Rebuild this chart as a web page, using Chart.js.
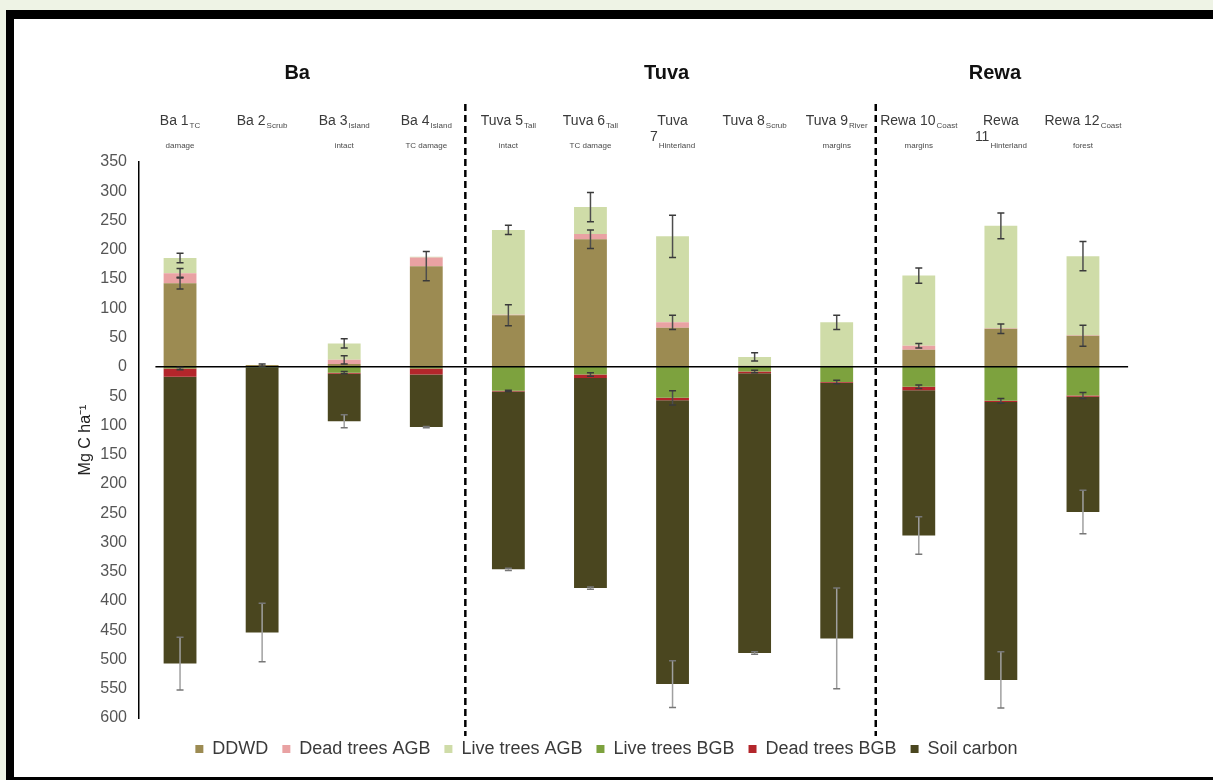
<!DOCTYPE html>
<html>
<head>
<meta charset="utf-8">
<script src="https://cdn.jsdelivr.net/npm/chart.js@4.4.1/dist/chart.umd.min.js"></script>
<style>
  html, body { margin: 0; padding: 0; }
  body { width: 1213px; height: 780px; background: #eef3e5; position: relative; overflow: hidden; }
  #frame { position: absolute; left: 6px; top: 10px; width: 1207px; height: 770px; box-sizing: border-box;
           background: #fff; border-top: 9px solid #000; border-left: 8px solid #000; border-bottom: 3px solid #000; }
  #wrap { position: absolute; left: 0; top: 0; width: 1213px; height: 780px; }
</style>
</head>
<body>
<div id="frame"></div>
<div id="wrap"><canvas id="chart"></canvas></div>
<script>
// sites (x categories) and their two-line labels
const sites      = ["Ba 1", "Ba 2", "Ba 3", "Ba 4", "Tuva 5", "Tuva 6", "Tuva", "Tuva 8", "Tuva 9", "Rewa 10", "Rewa", "Rewa 12"];
const siteSub    = ["TC", "Scrub", "Island", "Island", "Tall", "Tall", "", "Scrub", "River", "Coast", "", "Coast"];
const siteLine2  = ["", "", "", "", "", "", "7", "", "", "", "11", ""];
const line2Sub   = ["damage", "", "intact", "TC damage", "intact", "TC damage", "Hinterland", "", "margins", "margins", "Hinterland", "forest"];

const groupNames = ["Ba", "Tuva", "Rewa"];
const groupFirst = [0, 4, 9];
const groupLast  = [3, 8, 11];

// carbon stocks, Mg C ha-1 (below-ground stocks negative)
const ddwd    = [143, 3, 5, 172, 88, 218, 67, 2, 0, 29, 65, 53];
const deadAgb = [17, 0, 7, 15, 1, 9, 9, 0, 0, 7, 1, 1];
const liveAgb = [26, 0, 28, 1, 145, 46, 147, 15, 76, 120, 175, 135];
const liveBgb = [-3, -1, -10, -3, -41, -13, -53, -8, -26, -34, -58, -49];
const deadBgb = [-14, 0, -2, -10, -1, -6, -4, -3, -1, -6, -2, -2];
const soil    = [-490, -453, -81, -90, -304, -359, -485, -478, -437, -248, -475, -197];

// standard errors, drawn at the end of each segment
const ddwdErr    = [10, 2, 0, 25, 18, 16, 0, 0, 0, 0, 8, 18];
const deadAgbErr = [8, 0, 7, 0, 0, 0, 12, 0, 0, 4, 0, 0];
const liveAgbErr = [8, 0, 8, 0, 8, 25, 36, 7, 12, 13, 22, 25];
const liveBgbErr = [2, 0, 2, 0, 1, 3, 12, 2, 3, 3, 4, 5];
const deadBgbErr = [0, 0, 0, 0, 0, 0, 0, 0, 0, 0, 0, 0];
const soilErr    = [45, 50, 11, 1, 2, 2, 40, 2, 86, 32, 48, 37];

const yTicksMin = -600, yTicksMax = 350, yStep = 50;

const FONT = '"Liberation Sans", Arial, sans-serif';
const errors = [ddwdErr, deadAgbErr, liveAgbErr, liveBgbErr, deadBgbErr, soilErr];

function drawPair(ctx, cx, main, sub, mainY, subY) {
  ctx.font = "14px " + FONT;
  const wm = main ? ctx.measureText(main).width : 0;
  ctx.font = "8px " + FONT;
  const ws = sub ? ctx.measureText(sub).width : 0;
  const gap = main && sub ? 1 : 0;
  let x = cx - (wm + gap + ws) / 2;
  ctx.textAlign = "left";
  ctx.textBaseline = "alphabetic";
  if (main) {
    ctx.font = "14px " + FONT;
    ctx.fillStyle = "#3a3a3a";
    ctx.fillText(main, x, mainY);
    x += wm + gap;
  }
  if (sub) {
    ctx.font = "8px " + FONT;
    ctx.fillStyle = "#4a4a4a";
    ctx.fillText(sub, x, subY);
  }
}

const decor = {
  id: "decor",
  afterDatasetsDraw(chart) {
    const { ctx, chartArea, scales: { x, y } } = chart;
    const top = chartArea.top;
    ctx.save();

    // zero line
    const y0 = y.getPixelForValue(0);
    ctx.strokeStyle = "#000";
    ctx.lineWidth = 1.5;
    ctx.beginPath();
    ctx.moveTo(x.getPixelForValue(-0.3), y0);
    ctx.lineTo(x.getPixelForValue(11.55), y0);
    ctx.stroke();

    // dashed separators between regions
    ctx.lineWidth = 2.5;
    ctx.setLineDash([7, 4]);
    for (let g = 0; g < groupNames.length - 1; g++) {
      const sx = x.getPixelForValue((groupLast[g] + groupFirst[g + 1]) / 2) - 2;
      ctx.beginPath();
      ctx.moveTo(sx, top - 58);
      ctx.lineTo(sx, chartArea.bottom + 18);
      ctx.stroke();
    }
    ctx.setLineDash([]);

    // error bars
    chart.data.datasets.forEach((ds, di) => {
      const meta = chart.getDatasetMeta(di);
      const errs = errors[di];
      const soilBar = di === errors.length - 1;
      meta.data.forEach((el, j) => {
        const e = errs[j];
        if (!e) return;
        const d = Math.abs(y.getPixelForValue(e) - y0);
        const ex = el.x, ey = el.y;
        ctx.strokeStyle = soilBar ? "#a0a0a0" : "#4d4d4d";
        ctx.lineWidth = 1.5;
        ctx.beginPath();
        ctx.moveTo(ex, ey - d);
        ctx.lineTo(ex, ey + d);
        ctx.stroke();
        ctx.strokeStyle = soilBar ? "#777" : "#3a3a3a";
        ctx.beginPath();
        ctx.moveTo(ex - 3.5, ey - d); ctx.lineTo(ex + 3.5, ey - d);
        ctx.moveTo(ex - 3.5, ey + d); ctx.lineTo(ex + 3.5, ey + d);
        ctx.stroke();
      });
    });

    // region titles
    ctx.fillStyle = "#111";
    ctx.font = "bold 20px " + FONT;
    ctx.textAlign = "center";
    ctx.textBaseline = "alphabetic";
    groupNames.forEach((name, g) => {
      const cx = x.getPixelForValue((groupFirst[g] + groupLast[g]) / 2) - 6;
      ctx.fillText(name, cx, top - 83);
    });

    // site labels with subscripts
    sites.forEach((s, i) => {
      const cx = x.getPixelForValue(i);
      drawPair(ctx, cx, s, siteSub[i], top - 37, top - 34);
      drawPair(ctx, cx, siteLine2[i], line2Sub[i], top - 21, top - 14);
    });
    ctx.restore();
  }
};

new Chart(document.getElementById("chart"), {
  type: "bar",
  data: {
    labels: sites,
    datasets: [
      { label: "DDWD", data: ddwd, backgroundColor: "#9c8b52" },
      { label: "Dead trees AGB", data: deadAgb, backgroundColor: "#e9a2a3" },
      { label: "Live trees AGB", data: liveAgb, backgroundColor: "#cfdca8" },
      { label: "Live trees BGB", data: liveBgb, backgroundColor: "#7da23e" },
      { label: "Dead trees BGB", data: deadBgb, backgroundColor: "#b3262b" },
      { label: "Soil carbon", data: soil, backgroundColor: "#4a461f" }
    ]
  },
  options: {
    responsive: true,
    maintainAspectRatio: false,
    animation: false,
    layout: { padding: { top: 162, left: 0, right: 0, bottom: 12 } },
    datasets: { bar: { barPercentage: 0.8, categoryPercentage: 0.5, borderWidth: 0 } },
    scales: {
      x: {
        stacked: true,
        grid: { display: false },
        border: { display: false },
        ticks: { display: false },
        afterFit: s => { s.height = 8; }
      },
      y: {
        stacked: true,
        min: yTicksMin,
        max: yTicksMax,
        grid: { display: false },
        border: { display: true, color: "#000", width: 1.5 },
        ticks: {
          stepSize: yStep,
          autoSkip: false,
          maxTicksLimit: 40,
          padding: 4,
          color: "#555",
          font: { family: FONT, size: 16 },
          callback: v => Math.abs(v)
        },
        title: {
          display: true,
          text: "Mg C ha⁻¹",
          color: "#222",
          font: { family: FONT, size: 16 },
          padding: { top: 76, bottom: 0 }
        },
        afterFit: s => { s.width = 139; }
      },
      yRight: {
        position: "right",
        grid: { display: false },
        border: { display: false },
        ticks: { display: false },
        afterFit: s => { s.width = 89; }
      }
    },
    plugins: {
      legend: {
        position: "bottom",
        labels: {
          boxWidth: 8,
          boxHeight: 8,
          padding: 14,
          color: "#3a3a3a",
          font: { family: FONT, size: 18 }
        }
      },
      tooltip: { enabled: false }
    }
  },
  plugins: [decor]
});
</script>
</body>
</html>
